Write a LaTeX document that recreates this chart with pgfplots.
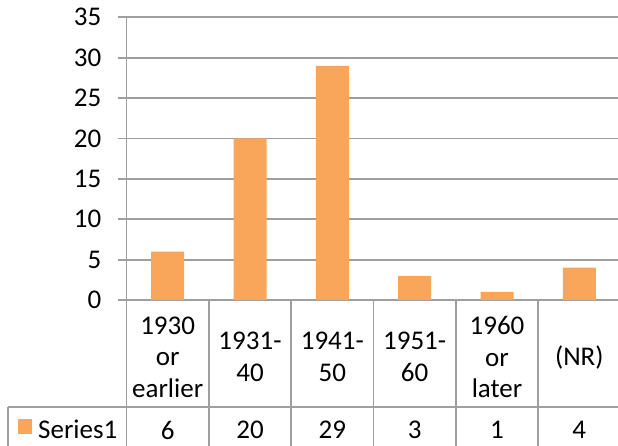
\documentclass[border=0pt]{standalone}
\usepackage{fontspec}
\setmainfont{Carlito}
\usepackage{pgfplots}
\pgfplotsset{compat=1.18}
\definecolor{barorange}{HTML}{F9A65A}
\definecolor{gridgray}{HTML}{9E9E9E}
\begin{document}
\fontsize{27bp}{31.5bp}\selectfont
\begin{tikzpicture}
\begin{axis}[
  at={(126.5bp,146bp)}, anchor=south west,
  scale only axis, width=494bp, height=282.7bp,
  xmin=-0.5, xmax=5.5, ymin=0, ymax=35,
  ytick={0,5,...,35},
  xtick={0,...,5},
  xticklabels={{1930\\or\\earlier},{1931-\\40},{1941-\\50},{1951-\\60},{1960\\or\\later},{(NR)}},
  axis x line*=bottom, axis y line*=left,
  axis line style={gridgray, line width=1.8bp},
  ymajorgrids, grid style={gridgray, line width=1.8bp},
  tick align=outside, major tick length=9bp,
  ytick style={gridgray, line width=1.8bp},
  xtick style={draw=none},
  /pgf/number format/assume math mode=true,
  yticklabel style={anchor=east, inner sep=0pt, xshift=-16bp},
  xticklabel style={anchor=center, align=center, text width=80bp, inner sep=0pt, yshift=-48bp},
  extra x ticks={0,...,5}, extra x tick labels={6,20,29,3,1,4},
  extra x tick style={xticklabel style={yshift=-73bp}},
  clip=false,
]
\addplot[ybar, bar width=33bp, fill=barorange, draw=none] coordinates {(0,6)(1,20)(2,29)(3,3)(4,1)(5,4)};
\end{axis}
\foreach \xx in {126.5,208.8,291.2,373.5,455.8,538.2,620.5}{
  \draw[gridgray, line width=1.8bp] (\xx bp,146bp) -- (\xx bp,-5bp);
}
\draw[gridgray, line width=1.8bp] (8bp,39.3bp) -- (625bp,39.3bp);
\draw[gridgray, line width=1.8bp] (8bp,39.3bp) -- (8bp,-5bp);
\fill[barorange] (18bp,12bp) rectangle (32bp,27bp);
\node[anchor=west, inner sep=0pt] at (38bp,17bp) {Series1};
\pgfresetboundingbox
\useasboundingbox (0,0) rectangle (618bp,446bp);
\end{tikzpicture}
\end{document}
